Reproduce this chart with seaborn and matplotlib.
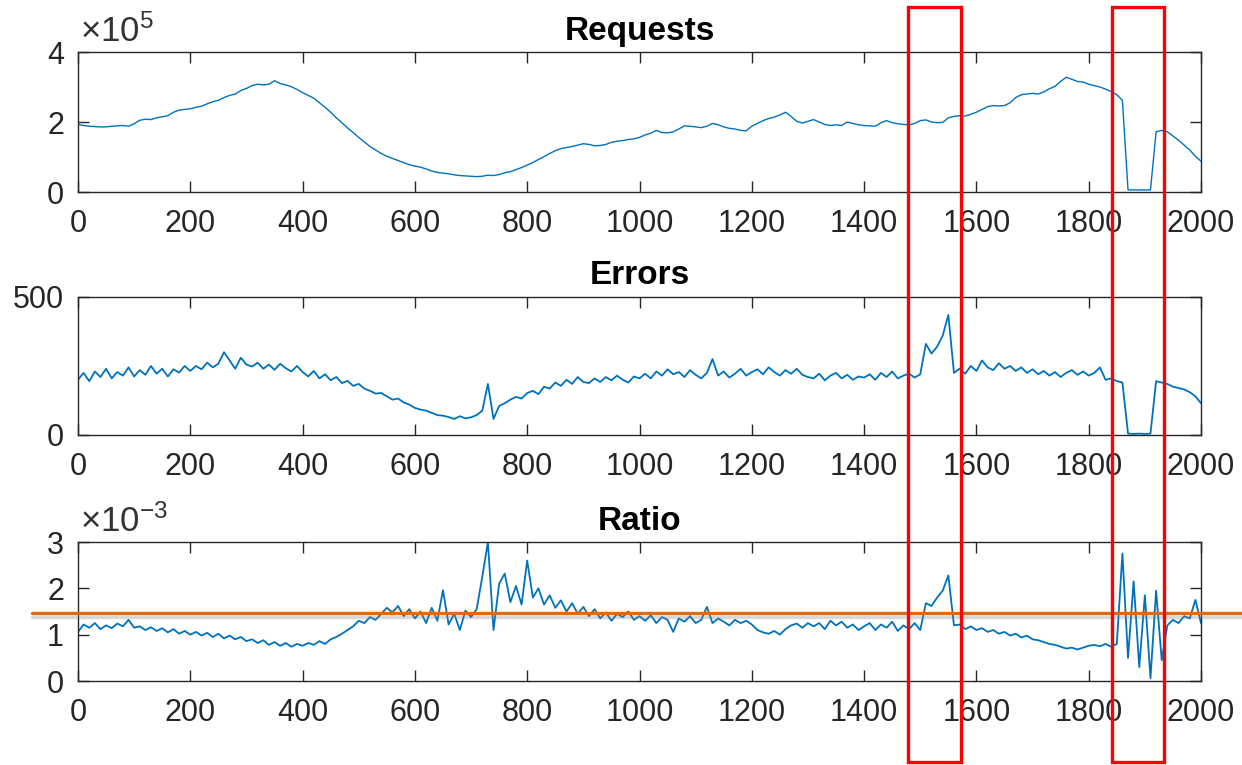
import numpy as np
import pandas as pd
import matplotlib
matplotlib.use("Agg")
import matplotlib.pyplot as plt
import matplotlib.patheffects as pe
from matplotlib.patches import Rectangle
import seaborn as sns

# ---------------- data (step of 10 samples) ----------------
time_index = np.arange(0, 2001, 10)

requests_e5 = [1.93,
    1.90, 1.88, 1.87, 1.86, 1.86, 1.88, 1.89, 1.90, 1.88, 1.95,
    2.05, 2.08, 2.07, 2.12, 2.15, 2.18, 2.28, 2.34, 2.36, 2.38,
    2.42, 2.45, 2.52, 2.58, 2.62, 2.70, 2.76, 2.80, 2.90, 2.96,
    3.04, 3.08, 3.06, 3.08, 3.18, 3.10, 3.06, 3.01, 2.93, 2.84,
    2.76, 2.68, 2.55, 2.42, 2.28, 2.12, 1.98, 1.83, 1.70, 1.56,
    1.43, 1.30, 1.20, 1.10, 1.02, 0.96, 0.90, 0.84, 0.78, 0.74,
    0.71, 0.66, 0.60, 0.56, 0.54, 0.52, 0.49, 0.47, 0.46, 0.45,
    0.44, 0.45, 0.48, 0.47, 0.50, 0.55, 0.58, 0.64, 0.70, 0.77,
    0.84, 0.93, 1.01, 1.10, 1.18, 1.24, 1.27, 1.30, 1.34, 1.38,
    1.36, 1.32, 1.33, 1.36, 1.42, 1.45, 1.47, 1.50, 1.52, 1.56,
    1.63, 1.68, 1.76, 1.70, 1.69, 1.72, 1.80, 1.89, 1.88, 1.86,
    1.84, 1.88, 1.96, 1.92, 1.86, 1.82, 1.80, 1.76, 1.75, 1.88,
    1.96, 2.04, 2.10, 2.14, 2.20, 2.28, 2.16, 2.02, 1.97, 2.02,
    2.07, 2.00, 1.93, 1.90, 1.92, 1.90, 2.00, 1.96, 1.92, 1.90,
    1.89, 1.88, 1.98, 2.04, 1.98, 1.95, 1.93, 1.92, 1.96, 2.04,
    2.06, 2.00, 1.98, 1.99, 2.12, 2.16, 2.18, 2.17, 2.22, 2.28,
    2.36, 2.44, 2.47, 2.46, 2.47, 2.55, 2.70, 2.78, 2.80, 2.82,
    2.80, 2.86, 2.95, 3.02, 3.16, 3.28, 3.22, 3.16, 3.14, 3.08,
    3.04, 3.00, 2.94, 2.87, 2.78, 2.62, 0.06, 0.06, 0.06, 0.06,
    0.06, 1.72, 1.76, 1.72, 1.60, 1.48, 1.34, 1.20, 1.02, 0.88]

errors = [200,
    225, 195, 230, 210, 240, 205, 228, 215, 245, 212,
    235, 218, 250, 222, 240, 212, 238, 226, 250, 232,
    250, 238, 262, 245, 258, 300, 270, 240, 280, 255,
    248, 262, 240, 255, 236, 258, 242, 230, 250, 228,
    212, 232, 205, 220, 198, 210, 188, 196, 178, 185,
    168, 160, 150, 152, 140, 128, 132, 118, 110, 98,
    92, 88, 80, 72, 70, 65, 58, 68, 60, 64,
    72, 88, 185, 58, 105, 115, 128, 138, 132, 152,
    160, 148, 175, 168, 190, 178, 200, 185, 210, 192,
    188, 205, 192, 210, 198, 215, 200, 190, 212, 205,
    222, 205, 230, 215, 238, 220, 228, 210, 235, 218,
    205, 225, 275, 215, 230, 208, 222, 240, 215, 228,
    238, 220, 245, 228, 215, 235, 222, 240, 218, 210,
    205, 222, 198, 215, 225, 205, 218, 200, 212, 208,
    220, 200, 225, 210, 230, 205, 215, 222, 208, 220,
    330, 295, 320, 360, 435, 225, 240, 222, 250, 232,
    270, 245, 235, 260, 240, 250, 232, 245, 225, 238,
    220, 232, 215, 228, 210, 225, 235, 218, 230, 215,
    225, 245, 200, 205, 195, 190, 5, 4, 5, 4,
    5, 195, 190, 185, 175, 170, 165, 155, 140, 115]

ratio_e3 = [1.06,
    1.22, 1.15, 1.25, 1.12, 1.20, 1.14, 1.24, 1.18, 1.32, 1.15,
    1.18, 1.10, 1.16, 1.08, 1.14, 1.05, 1.12, 1.02, 1.08, 1.00,
    1.06, 0.98, 1.04, 0.95, 1.02, 0.92, 0.98, 0.90, 0.95, 0.86,
    0.90, 0.82, 0.88, 0.78, 0.84, 0.76, 0.82, 0.74, 0.80, 0.76,
    0.82, 0.78, 0.86, 0.80, 0.90, 0.95, 1.02, 1.10, 1.18, 1.30,
    1.25, 1.38, 1.32, 1.45, 1.58, 1.48, 1.62, 1.40, 1.55, 1.35,
    1.50, 1.25, 1.58, 1.30, 1.96, 1.22, 1.45, 1.10, 1.52, 1.38,
    1.55, 2.25, 3.00, 1.10, 2.10, 2.32, 1.70, 2.05, 1.65, 2.60,
    1.80, 2.00, 1.65, 1.85, 1.58, 1.74, 1.50, 1.68, 1.45, 1.60,
    1.40, 1.55, 1.35, 1.48, 1.30, 1.45, 1.38, 1.50, 1.32, 1.40,
    1.30, 1.42, 1.25, 1.38, 1.32, 1.06, 1.35, 1.28, 1.40, 1.25,
    1.32, 1.60, 1.25, 1.35, 1.28, 1.20, 1.32, 1.25, 1.30, 1.22,
    1.10, 1.05, 1.02, 1.08, 1.00, 1.12, 1.20, 1.24, 1.15, 1.25,
    1.18, 1.25, 1.12, 1.30, 1.20, 1.28, 1.15, 1.22, 1.10, 1.18,
    1.25, 1.10, 1.22, 1.15, 1.28, 1.08, 1.20, 1.12, 1.25, 1.10,
    1.68, 1.62, 1.80, 1.95, 2.28, 1.20, 1.22, 1.12, 1.18, 1.10,
    1.14, 1.06, 1.10, 1.02, 1.06, 0.98, 1.02, 0.94, 0.98, 0.90,
    0.88, 0.84, 0.80, 0.78, 0.74, 0.70, 0.72, 0.68, 0.72, 0.76,
    0.78, 0.75, 0.80, 0.74, 0.80, 2.75, 0.50, 2.15, 0.30, 1.85,
    0.06, 1.95, 0.45, 1.20, 1.32, 1.25, 1.40, 1.35, 1.75, 1.25]

titles = ["Requests", "Errors", "Ratio"]
y_limits = [(0, 4), (0, 500), (0, 3)]
y_ticks = [[0, 2, 4], [0, 500], [0, 1, 2, 3]]
x_ticks = [0, 200, 400, 600, 800, 1000, 1200, 1400, 1600, 1800, 2000]
exponent_labels = [r"$\mathregular{\times10^{5}}$", None, r"$\mathregular{\times10^{-3}}$"]
ratio_threshold_e3 = 1.47
highlight_ranges = [(1478, 1573), (1841, 1934)]

assert len(requests_e5) == len(errors) == len(ratio_e3) == len(time_index)

# ---------------- style ----------------
sns.set_theme(style="white")
plt.rcParams["font.family"] = ["Liberation Sans", "DejaVu Sans"]
plt.rcParams["mathtext.fontset"] = "custom"
plt.rcParams["mathtext.rm"] = "Liberation Sans"
plt.rcParams["mathtext.it"] = "Liberation Sans:italic"
plt.rcParams["mathtext.bf"] = "Liberation Sans:bold"

line_color = "#0072BD"
frame_color = "#262626"

fig = plt.figure(figsize=(12.42, 7.65), dpi=100)
positions = [
    [0.0628, 0.749, 0.9042, 0.183],
    [0.0628, 0.4314, 0.9042, 0.1804],
    [0.0628, 0.1098, 0.9042, 0.1817],
]
series = [requests_e5, errors, ratio_e3]
line_widths = [1.0, 1.3, 1.3]

axes = []
for pos, vals, title, ylim, yt, expo, lw in zip(positions, series, titles, y_limits,
                                                y_ticks, exponent_labels, line_widths):
    ax = fig.add_axes(pos)
    df = pd.DataFrame({"t": time_index, "v": vals})
    sns.lineplot(data=df, x="t", y="v", ax=ax, color=line_color, linewidth=lw)
    ax.set_xlim(0, 2000)
    ax.set_ylim(*ylim)
    ax.set_xticks(x_ticks)
    ax.set_yticks(yt)
    ax.set_xlabel("")
    ax.set_ylabel("")
    ax.set_title(title, fontsize=24, fontweight="bold", pad=9, color="black")
    for sp in ax.spines.values():
        sp.set_visible(True)
        sp.set_color(frame_color)
        sp.set_linewidth(1.0)
    ax.tick_params(axis="both", direction="in", length=8, width=1.0, colors=frame_color,
                   labelsize=22, labelcolor=frame_color, top=True, right=True,
                   bottom=True, left=True)
    ax.tick_params(axis="x", pad=12)
    ax.tick_params(axis="y", pad=10)
    if expo is not None:
        ax.text(0.002, 1.025, expo, transform=ax.transAxes, ha="left", va="bottom",
                fontsize=25, color="#333333")
    axes.append(ax)

# threshold line on the ratio panel, running past the axes edges
ax3 = axes[2]
ax3.axhline(ratio_threshold_e3, xmin=-0.041, xmax=1.04, color="#E06A12", linewidth=2.4,
            clip_on=False, zorder=5,
            path_effects=[pe.SimpleLineShadow(offset=(0, -3), shadow_color="gray", alpha=0.3),
                          pe.Normal()])

# red highlight boxes spanning the whole figure height
fig.canvas.draw()
to_fig = fig.transFigure.inverted()
box_top = 1 - 7 / 765
box_bottom = 1 - 762 / 765
for x0, x1 in highlight_ranges:
    fx0 = to_fig.transform(axes[0].transData.transform((x0, 0)))[0]
    fx1 = to_fig.transform(axes[0].transData.transform((x1, 0)))[0]
    rect = Rectangle((fx0, box_bottom), fx1 - fx0, box_top - box_bottom,
                     transform=fig.transFigure, fill=False, edgecolor="#FF0000",
                     linewidth=2.4, zorder=10)
    fig.add_artist(rect)

fig.savefig("out.png", dpi=100)
